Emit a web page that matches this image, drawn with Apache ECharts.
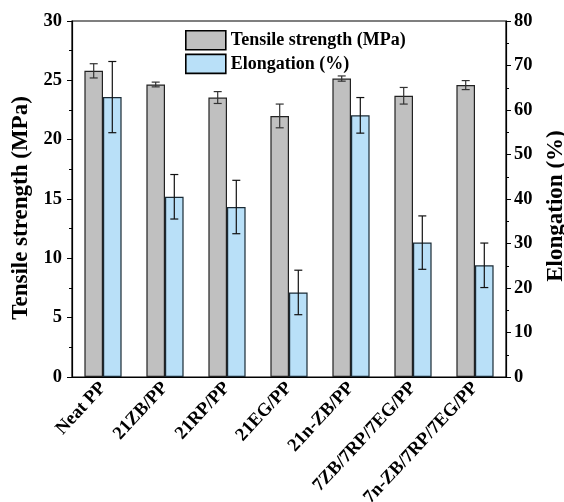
<!DOCTYPE html>
<html>
<head>
<meta charset="utf-8">
<script src="https://cdn.jsdelivr.net/npm/echarts@6/dist/echarts.min.js"></script>
<style>html,body{margin:0;padding:0;background:#fff}#c{width:564px;height:502px}</style>
</head>
<body>
<div id="c"></div>
<script>
const categories = ['Neat PP', '21ZB/PP', '21RP/PP', '21EG/PP', '21n-ZB/PP', '7ZB/7RP/7EG/PP', '7n-ZB/7RP/7EG/PP'];
const tensile = [25.8, 24.65, 23.55, 22.0, 25.15, 23.7, 24.6];
const tensileErr = [0.6, 0.2, 0.5, 1.0, 0.22, 0.7, 0.38];
const elongation = [62.9, 40.5, 38.2, 19.0, 58.8, 30.2, 25.1];
const elongationErr = [8.0, 5.0, 6.0, 5.0, 4.0, 6.0, 5.0];
const leftTicks = { min: 0, max: 30, interval: 5 };
const rightTicks = { min: 0, max: 80, interval: 10 };

const FONT = "'Liberation Serif', 'Times New Roman', serif";
const BAR_W = 18.6;

function errSeries(name, vals, errs, yIdx, dir, color) {
  return {
    type: 'custom',
    name: name + ' err',
    yAxisIndex: yIdx,
    z: 10,
    silent: true,
    data: vals.map((v, i) => [i, v - errs[i], v + errs[i]]),
    renderItem: function (params, api) {
      const i = api.value(0);
      const lo = api.coord([i, api.value(1)]);
      const hi = api.coord([i, api.value(2)]);
      const x = lo[0] + dir * BAR_W / 2;
      const cap = 4;
      const st = { stroke: color, lineWidth: 1.2 };
      return {
        type: 'group',
        children: [
          { type: 'line', shape: { x1: x, y1: lo[1], x2: x, y2: hi[1] }, style: st },
          { type: 'line', shape: { x1: x - cap, y1: lo[1], x2: x + cap, y2: lo[1] }, style: st },
          { type: 'line', shape: { x1: x - cap, y1: hi[1], x2: x + cap, y2: hi[1] }, style: st }
        ]
      };
    }
  };
}

const chart = echarts.init(document.getElementById('c'), null, { renderer: 'canvas' });
chart.setOption({
  animation: false,
  textStyle: { fontFamily: FONT },
  grid: { left: 72, right: 58, top: 21, bottom: 125, outerBoundsMode: 'none', containLabel: false, show: true, borderColor: '#000', borderWidth: 1.2, backgroundColor: 'transparent' },
  legend: {
    left: 185, top: 30, padding: 0, orient: 'vertical', itemWidth: 40, itemHeight: 19, itemGap: 3,
    icon: 'rect',
    data: ['Tensile strength (MPa)', 'Elongation (%)'],
    itemStyle: { borderColor: '#000', borderWidth: 1.6 },
    textStyle: { fontFamily: FONT, fontWeight: 'bold', fontStyle: 'normal', fontSize: 18, color: '#000' }
  },
  xAxis: {
    type: 'category',
    data: categories,
    axisLine: { lineStyle: { color: '#000', width: 1.2 } },
    axisTick: { alignWithLabel: true, length: 5, lineStyle: { color: '#000' } },
    axisLabel: { rotate: 47, interval: 0, margin: 8, fontFamily: FONT, fontWeight: 'bold', fontSize: 18.5, color: '#000' }
  },
  yAxis: [
    {
      type: 'value', min: leftTicks.min, max: leftTicks.max, interval: leftTicks.interval,
      name: 'Tensile strength (MPa)', nameLocation: 'middle', nameRotate: 90, nameGap: 38,
      nameTextStyle: { fontFamily: FONT, fontWeight: 'bold', fontSize: 23, color: '#000', padding: [0, 18, 0, 0] },
      axisLine: { show: true, lineStyle: { color: '#000', width: 1.2 } },
      axisTick: { show: true, length: 5, lineStyle: { color: '#000' } },
      minorTick: { show: true, splitNumber: 2, length: 3, lineStyle: { color: '#000' } },
      splitLine: { show: false },
      axisLabel: { margin: 10, fontFamily: FONT, fontWeight: 'bold', fontSize: 18.5, color: '#000' }
    },
    {
      type: 'value', min: rightTicks.min, max: rightTicks.max, interval: rightTicks.interval,
      position: 'right',
      name: 'Elongation (%)', nameLocation: 'middle', nameRotate: 90, nameGap: 39,
      nameTextStyle: { fontFamily: FONT, fontWeight: 'bold', fontSize: 23, color: '#000', padding: [0, 14, 0, 0] },
      axisLine: { show: true, lineStyle: { color: '#000', width: 1.2 } },
      axisTick: { show: true, length: 5, lineStyle: { color: '#000' } },
      minorTick: { show: true, splitNumber: 2, length: 3, lineStyle: { color: '#000' } },
      splitLine: { show: false },
      axisLabel: { margin: 8, fontFamily: FONT, fontWeight: 'bold', fontSize: 18.5, color: '#000' }
    }
  ],
  series: [
    {
      name: 'Tensile strength (MPa)', type: 'bar', yAxisIndex: 0, data: tensile,
      barWidth: BAR_W, barGap: '0%',
      itemStyle: { color: '#c0c0c0', borderColor: '#222', borderWidth: 1.2 }
    },
    {
      name: 'Elongation (%)', type: 'bar', yAxisIndex: 1, data: elongation,
      barWidth: BAR_W, barGap: '0%',
      itemStyle: { color: '#b9e0f8', borderColor: '#1a2a35', borderWidth: 1.2 }
    },
    errSeries('Tensile strength (MPa)', tensile, tensileErr, 0, -1, '#333'),
    errSeries('Elongation (%)', elongation, elongationErr, 1, 1, '#111')
  ]
});
</script>
</body>
</html>
